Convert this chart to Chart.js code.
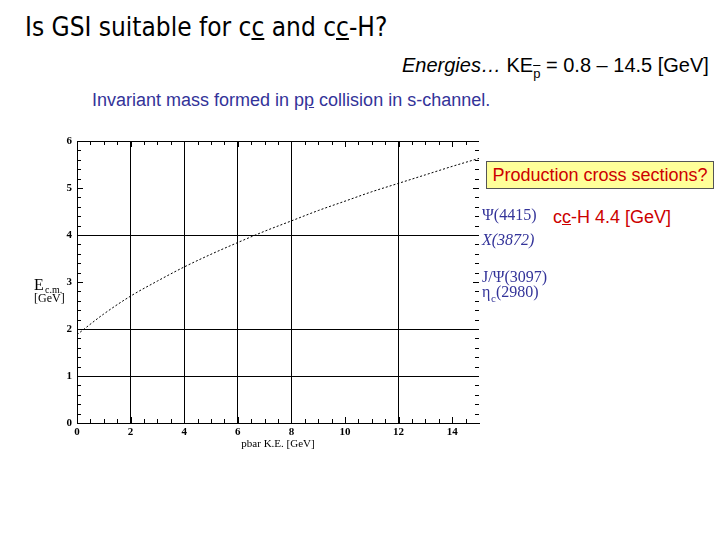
<!DOCTYPE html>
<html>
<head>
<meta charset="utf-8">
<script src="https://cdn.jsdelivr.net/npm/chart.js@4/dist/chart.umd.min.js"></script>
<style>
  html, body { margin:0; padding:0; background:#fff; }
  body { width:720px; height:540px; position:relative; overflow:hidden; }
  #c { position:absolute; left:0; top:0; }
  .t { position:absolute; white-space:nowrap; }
  #title { left:25px; top:12px; font-family:"DejaVu Sans Condensed","DejaVu Sans",sans-serif; font-size:26px; color:#000; }
  #energy { left:402px; top:54px; font-family:"Liberation Sans",Arial,sans-serif; font-size:20px; color:#000; }
  #inv { left:92px; top:90px; font-family:"Liberation Sans",Arial,sans-serif; font-size:18px; color:#333399; }
  #prod { left:486px; top:161px; width:228px; height:28px; box-sizing:border-box; background:#ffff99; border:1px solid #555;
          font-family:"Liberation Sans",Arial,sans-serif; font-size:18px; color:#cc0000; text-align:center; line-height:26px; }
  #cch { left:553px; top:207px; font-family:"Liberation Sans",Arial,sans-serif; font-size:18px; color:#cc0000; }
  sub.pb { font-size:13px; vertical-align:-6px; text-decoration:overline; }
</style>
</head>
<body>
<div class="t" id="title">Is GSI suitable for c<u>c</u> and c<u>c</u>-H?</div>
<div class="t" id="energy"><i>Energies…</i> KE<sub class="pb">p</sub> = 0.8 – 14.5 [GeV]</div>
<div class="t" id="inv">Invariant mass formed in p<u>p</u> collision in s-channel.</div>
<div class="t" id="prod">Production cross sections?</div>
<div class="t" id="cch">c<u>c</u>-H 4.4 [GeV]</div>
<canvas id="c" width="720" height="540"></canvas>
<script>
/* ── Data ───────────────────────────────────────────────────────── */
const KE    = [0, 1, 2, 3, 4, 5, 6, 7, 8, 9, 10, 11, 12, 13, 14, 15];
const ECM   = [1.88, 2.32, 2.70, 3.02, 3.32, 3.59, 3.84, 4.08, 4.30, 4.52, 4.72, 4.92, 5.10, 5.28, 5.46, 5.63];
const XTICKS = [0, 2, 4, 6, 8, 10, 12, 14];
const YTICKS = [0, 1, 2, 3, 4, 5, 6];
const XGRID  = [2, 4, 6, 8, 12];
const YGRID  = [1, 2, 4];
const STATES = ['Ψ(4415)', 'X(3872)', 'J/Ψ(3097)', 'η(2980)'];
const MASSES = [4.415, 3.872, 3.097, 2.980];

const SERIF = '"Liberation Serif","Times New Roman",serif';
const BLUE  = '#333399';

/* ── Frame, inward ticks, axis label, state labels ─────────────── */
const framePlugin = {
  id: 'frame',
  afterDraw(chart) {
    const { ctx, chartArea: a, scales: { x, y } } = chart;
    ctx.save();
    ctx.strokeStyle = '#000';
    ctx.lineWidth = 1;
    ctx.beginPath();
    ctx.moveTo(a.left, a.top + 0.5); ctx.lineTo(a.right, a.top + 0.5);
    // minor ticks on x (bottom + top)
    for (let v = 0.5; v < 15; v += 0.5) {
      const px = Math.round(x.getPixelForValue(v)) + 0.5;
      const len = (v % 2 === 0) ? 6 : 4;
      ctx.moveTo(px, a.bottom); ctx.lineTo(px, a.bottom - len);
      ctx.moveTo(px, a.top);    ctx.lineTo(px, a.top + len);
    }
    // minor ticks on y (left + right)
    for (let i = 1; i < 30; i++) {
      const v = i / 5;
      const py = Math.round(y.getPixelForValue(v)) + 0.5;
      const len = (i % 5 === 0) ? 6 : 4;
      ctx.moveTo(a.left, py);  ctx.lineTo(a.left + len, py);
      ctx.moveTo(a.right, py); ctx.lineTo(a.right - len, py);
    }
    ctx.stroke();

    // y axis title: E c.m. [GeV]
    ctx.fillStyle = '#000';
    ctx.textBaseline = 'alphabetic';
    ctx.textAlign = 'left';
    ctx.font = '16px ' + SERIF;
    ctx.fillText('E', 34, 290);
    ctx.font = '10px ' + SERIF;
    ctx.fillText('c.m.', 45, 293);
    ctx.font = '12px ' + SERIF;
    ctx.fillText('[GeV]', 34, 302);

    // charmonium states placed by the y scale
    ctx.fillStyle = BLUE;
    ctx.textBaseline = 'middle';
    let prev = -1e9;
    STATES.forEach((s, i) => {
      let py = y.getPixelForValue(MASSES[i]);
      if (py < prev + 15) py = prev + 15;
      prev = py;
      const x0 = a.right + 3;
      ctx.font = (s[0] === 'X' ? 'italic ' : '') + '16px ' + SERIF;
      if (s[0] === 'η') {
        ctx.fillText('η', x0, py);
        ctx.font = '11px ' + SERIF;
        ctx.fillText('c', x0 + 9, py + 7);
        ctx.font = '16px ' + SERIF;
        ctx.fillText(s.slice(1), x0 + 14, py);
      } else {
        ctx.fillText(s, x0, py);
      }
    });
    ctx.restore();
  }
};

const gridColor = list => c => (c.tick && list.includes(c.tick.value)) ? '#000' : 'rgba(0,0,0,0)';

new Chart(document.getElementById('c'), {
  type: 'line',
  data: {
    datasets: [{
      data: KE.map((k, i) => ({ x: k, y: ECM[i] })),
      borderColor: '#000',
      borderWidth: 1,
      borderDash: [2, 2],
      pointRadius: 0,
      cubicInterpolationMode: 'monotone',
      fill: false
    }]
  },
  options: {
    responsive: false,
    devicePixelRatio: 1,
    animation: false,
    layout: { padding: { top: 141, left: 0, right: 241, bottom: 87 } },
    plugins: { legend: { display: false }, tooltip: { enabled: false } },
    scales: {
      x: {
        type: 'linear', min: 0, max: 15,
        afterBuildTicks: s => { s.ticks = XTICKS.map(v => ({ value: v })); },
        afterFit: s => { s.height = 30; },
        grid: { color: gridColor(XGRID), drawTicks: false, lineWidth: 1 },
        border: { color: '#000', width: 1 },
        ticks: { color: '#000', font: { family: SERIF, size: 11, weight: 'bold' }, padding: 3, maxRotation: 0 },
        title: { display: true, text: 'pbar K.E. [GeV]', color: '#000', font: { family: SERIF, size: 11 }, padding: { top: 0, bottom: 2 } }
      },
      y: {
        type: 'linear', min: 0, max: 6,
        afterBuildTicks: s => { s.ticks = YTICKS.map(v => ({ value: v })); },
        afterFit: s => { s.width = 77; },
        grid: { color: gridColor(YGRID), drawTicks: false, lineWidth: 1 },
        border: { color: '#000', width: 1 },
        ticks: { color: '#000', font: { family: SERIF, size: 11, weight: 'bold' }, padding: 5 }
      }
    }
  },
  plugins: [framePlugin]
});
</script>
</body>
</html>
